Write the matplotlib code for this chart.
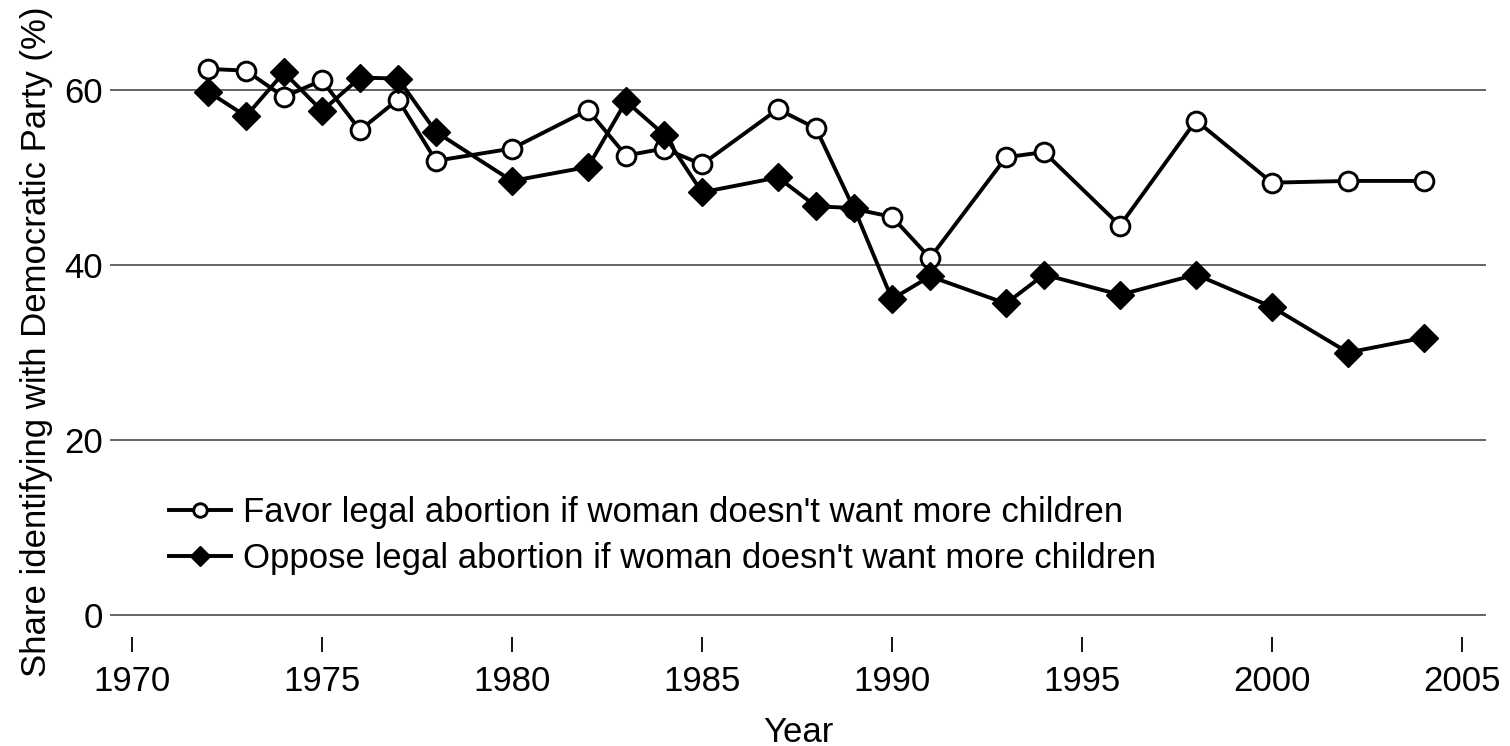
import matplotlib
matplotlib.use('Agg')
import matplotlib.pyplot as plt

plt.rcParams['font.family'] = ['Liberation Sans', 'DejaVu Sans']

# values
years = [1972, 1973, 1974, 1975, 1976, 1977, 1978, 1980, 1982, 1983, 1984,
         1985, 1987, 1988, 1989, 1990, 1991, 1993, 1994, 1996, 1998, 2000,
         2002, 2004]
favor = [62.4, 62.2, 59.2, 61.1, 55.4, 58.9, 51.9, 53.3, 57.7, 52.5, 53.3,
         51.5, 57.8, 55.6, 46.4, 45.5, 40.8, 52.3, 52.9, 44.5, 56.5, 49.4,
         49.6, 49.6]
oppose = [59.8, 57.0, 62.0, 57.6, 61.4, 61.3, 55.2, 49.6, 51.2, 58.7, 54.9,
          48.3, 50.0, 46.7, 46.5, 36.1, 38.7, 35.6, 38.9, 36.6, 38.9, 35.2,
          30.0, 31.7]
xticks = [1970, 1975, 1980, 1985, 1990, 1995, 2000, 2005]
yticks = [0, 20, 40, 60]

fs = 25

fig = plt.figure(figsize=(15.1, 7.46), dpi=100)
ax = fig.add_axes([0.0728, 0.1461, 0.9113, 0.7909])

ax.plot(years, favor, color='black', lw=2.8, marker='o', ms=13.5,
        mfc='white', mec='black', mew=2.1,
        label="Favor legal abortion if woman doesn't want more children")
ax.plot(years, oppose, color='black', lw=2.8, marker='D', ms=14.5,
        mfc='black', mec='black',
        label="Oppose legal abortion if woman doesn't want more children")

ax.set_xlim(1969.42, 2005.63)
ax.set_ylim(-2.5, 64.9)
ax.set_xticks(xticks)
ax.set_yticks(yticks)
ax.yaxis.grid(True, color='#3a3a3a', lw=1.1)
ax.set_axisbelow(True)
for s in ax.spines.values():
    s.set_visible(False)

ax.tick_params(axis='x', length=11, width=1.3, direction='out', pad=9,
               labelsize=fs, color='black')
ax.tick_params(axis='y', length=0, pad=5, labelsize=fs)

ax.set_xlabel('Year', fontsize=fs, labelpad=13)
ax.set_ylabel('Share identifying with Democratic Party (%)', fontsize=fs,
              labelpad=8)

ax.legend(loc='lower left', bbox_to_anchor=(0.03, 0.075), frameon=False,
          fontsize=fs, handlelength=1.8, handletextpad=0.35,
          labelspacing=0.38, borderpad=0, markerscale=0.72)

plt.savefig('out.png', dpi=100)
